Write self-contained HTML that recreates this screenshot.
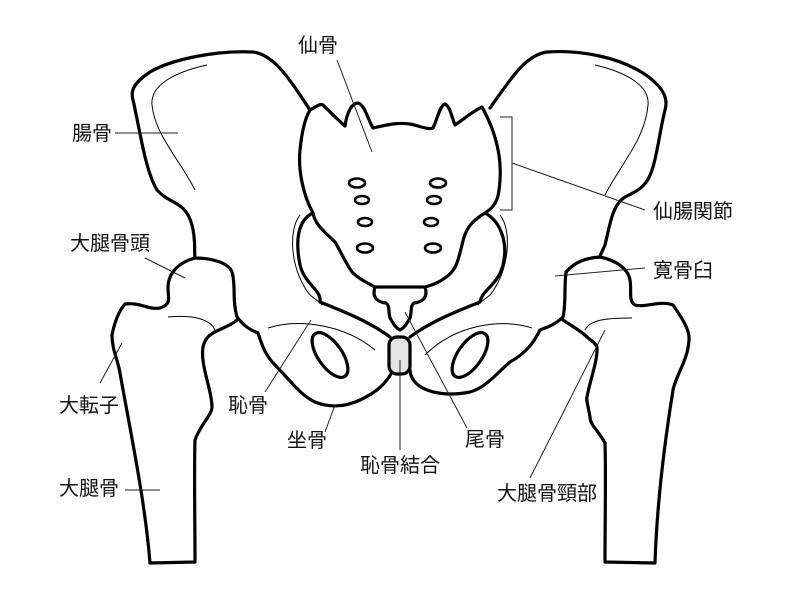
<!DOCTYPE html>
<html><head><meta charset="utf-8"><style>
body{margin:0;background:#fff}
svg{display:block}
text{font-family:"Liberation Sans","Noto Sans CJK JP",sans-serif;font-size:20px;fill:#111}
</style></head><body>
<svg width="800" height="600" viewBox="0 0 800 600">
<g fill="none" stroke="#000" stroke-width="3.2" stroke-linejoin="round" stroke-linecap="round">
<!-- left femur -->
<path fill="#fff" d="M195,258 C180,262 168,272 168,288 C168,298 172,304 160,308 C148,310 140,302 125,304 C118,312 114,325 112,335 C112,350 118,360 120,373 C130,430 145,500 150,563 L195,562 C195,520 194,470 195,440 C200,425 212,415 212,407 C212,390 200,365 203,347 C205,338 210,335 213,333 C222,328 232,325 237,320"/>
<!-- left ilium -->
<path fill="#fff" d="M310,110 C290,80 275,55 253,52 C215,50 170,60 150,72 C135,82 130,90 133,100 C140,130 145,170 157,190 C170,205 185,200 192,225 C196,240 194,250 195,258 C210,258 228,262 232,272 C236,285 232,300 237,317 C244,326 250,330 258,333 C262,345 265,355 275,365 C290,380 300,395 315,402 C330,408 345,407 360,400 C375,393 385,385 392,372"/>
<ellipse cx="330" cy="355" rx="12" ry="26" transform="rotate(-35 330 355)"/>
<path d="M313,213 C298,220 295,240 300,265 C305,285 322,290 320,302 C345,312 370,322 390,337"/>
<!-- right femur -->
<path fill="#fff" d="M565,275 C570,262 580,257 600,257 C615,260 628,268 630,280 C632,292 628,300 635,305 C645,308 660,300 673,305 C682,318 690,330 689,340 C688,360 676,375 673,390 C665,440 657,500 655,563 L605,562 C605,520 606,470 605,443 C598,430 590,425 590,417 C588,405 586,400 587,397 C590,380 598,360 597,347 C595,342 590,340 587,337 C580,330 570,325 563,320"/>
<!-- right ilium -->
<path fill="#fff" d="M490,108 C510,80 525,55 547,52 C575,50 620,55 650,78 C665,90 668,100 665,110 C660,130 658,150 653,167 C648,185 640,190 625,197 C612,205 610,225 605,245 C602,252 600,255 600,257 C585,258 575,262 566,272 C564,290 566,305 563,317 C555,325 545,328 540,330 C535,340 528,352 510,362 C495,375 485,388 470,392 C450,396 430,394 418,385 C412,380 410,374 410,370"/>
<ellipse cx="470" cy="355" rx="12" ry="26" transform="rotate(35 470 355)"/>
<path d="M485,213 C502,222 508,245 503,265 C498,285 482,290 480,302 C455,312 430,322 410,337"/>
<!-- sacrum -->
<path fill="#fff" d="M310,110 C316,107 320,103 323,105 C330,112 338,120 345,126 C347,112 352,103 358,103 C365,105 368,120 373,128 C383,126 395,122 410,124 C420,126 428,130 433,128 C437,120 440,105 445,104 C450,106 452,118 455,125 C465,118 475,110 482,107 C492,125 502,150 500,180 C499,195 498,205 485,213 C470,222 465,230 462,245 C458,260 457,270 445,278 C438,283 432,285 425,287 C428,296 424,302 414,303 C410,306 412,312 410,318 C406,325 404,328 400,330 C396,328 394,325 390,318 C388,310 390,306 386,303 C376,302 372,296 375,287 C368,283 360,280 352,272 C345,262 340,250 335,242 C325,232 315,225 313,213 C303,195 298,170 300,150 C302,130 305,118 310,110 Z"/>
<path d="M375,287 L425,287"/>
<g stroke-width="2.6">
<ellipse cx="357" cy="183" rx="8" ry="4.5"/><ellipse cx="362" cy="200" rx="7" ry="4"/><ellipse cx="365" cy="222" rx="7" ry="4"/><ellipse cx="365" cy="248" rx="8" ry="4.5"/>
<ellipse cx="438" cy="183" rx="8" ry="4.5"/><ellipse cx="434" cy="200" rx="7" ry="4"/><ellipse cx="431" cy="222" rx="7" ry="4"/><ellipse cx="433" cy="248" rx="8" ry="4.5"/>
</g>
<rect x="389" y="337" width="21" height="37" rx="8" fill="#e4e4e4"/>
</g>
<g fill="none" stroke="#000" stroke-width="1">
<path d="M207,65 C175,72 150,85 152,105 C155,135 180,160 195,190"/>
<path d="M595,65 C625,72 650,85 648,105 C645,140 620,165 605,195"/>
<path d="M300,215 C288,230 290,270 310,295 C316,300 320,302 322,305"/>
<path d="M500,215 C512,230 510,270 490,295 C484,300 480,302 478,305"/>
<path d="M168,317 C190,315 210,318 215,330"/>
<path d="M585,330 C590,320 605,318 632,318"/>
<path d="M268,328 C300,318 345,325 375,350"/>
<path d="M532,328 C500,318 455,325 425,355"/>
</g>
<g stroke="#222" stroke-width="1" fill="none">
<path d="M337,60 L372,152"/>
<path d="M115,133 L178,133"/>
<path d="M145,258 L185,278"/>
<path d="M100,383 L122,343"/>
<path d="M125,490 L160,490"/>
<path d="M265,392 L311,320"/>
<path d="M325,432 L335,405"/>
<path d="M400,450 L400,360"/>
<path d="M467,428 L405,312"/>
<path d="M530,478 L605,330"/>
<path d="M645,268 L555,276"/>
<path d="M645,210 L512,163"/>
<path d="M500,117 L512,117 L512,210 L500,210"/>
</g>
<text x="298" y="52">仙骨</text>
<text x="72" y="140">腸骨</text>
<text x="70" y="250">大腿骨頭</text>
<text x="59" y="412">大転子</text>
<text x="59" y="495">大腿骨</text>
<text x="228" y="412">恥骨</text>
<text x="287" y="447">坐骨</text>
<text x="360" y="472">恥骨結合</text>
<text x="465" y="446">尾骨</text>
<text x="497" y="500">大腿骨頸部</text>
<text x="653" y="277">寛骨臼</text>
<text x="653" y="218">仙腸関節</text>
</svg>
</body></html>
